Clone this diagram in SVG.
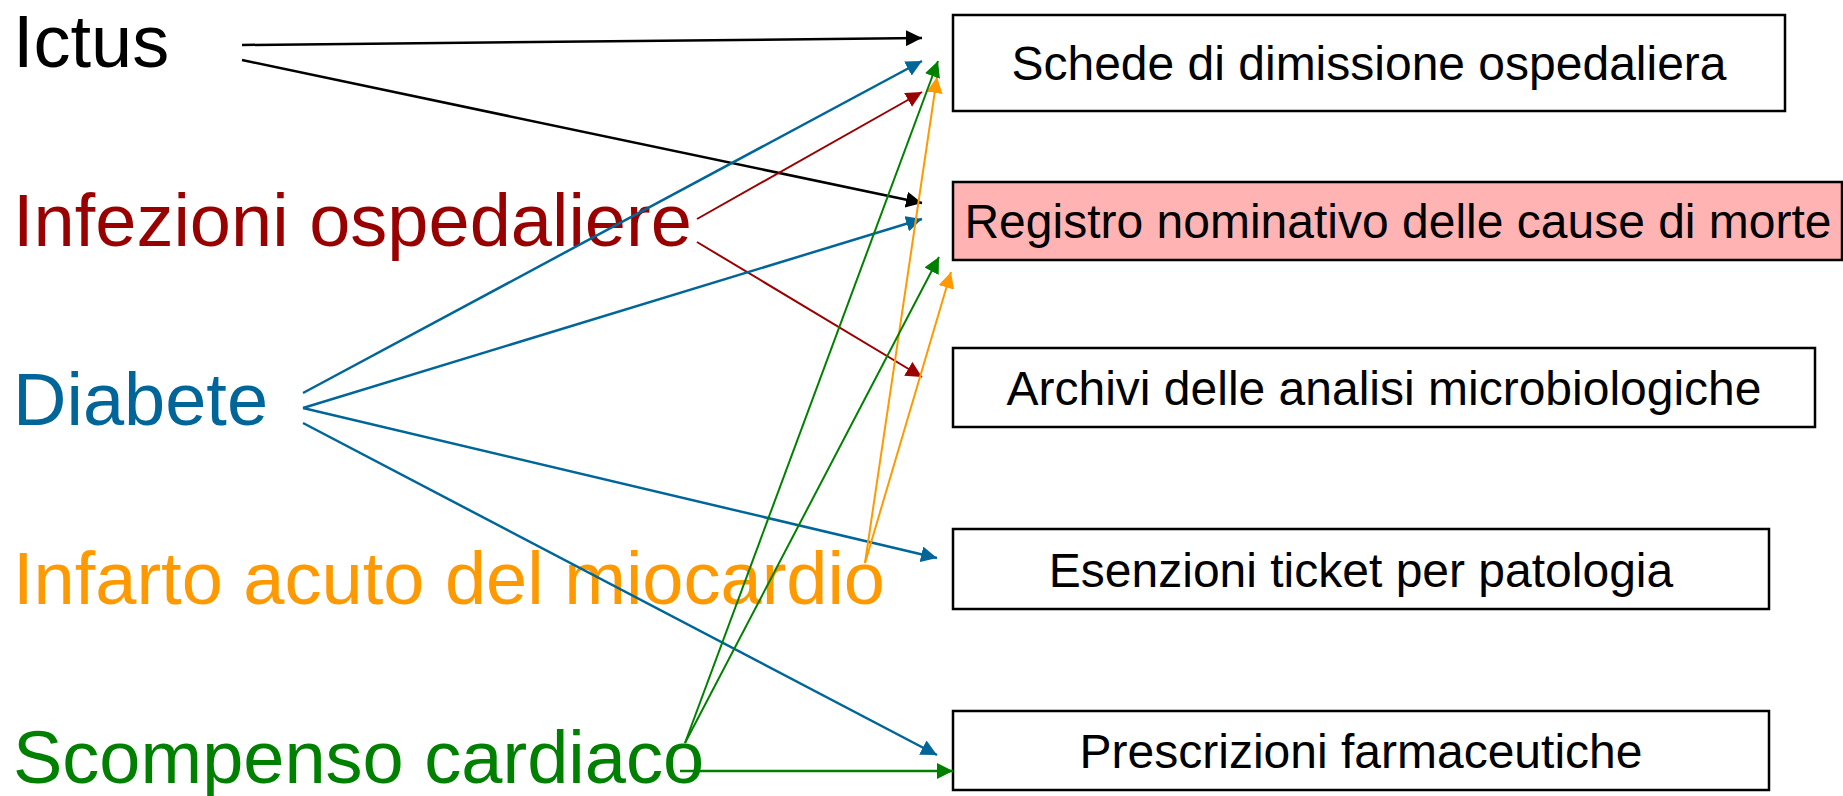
<svg xmlns="http://www.w3.org/2000/svg" width="1843" height="796" viewBox="0 0 1843 796">
<style>
.lbl{font-family:"Liberation Sans",Arial,sans-serif;font-size:74px}
.bt{font-family:"Liberation Sans",Arial,sans-serif;font-size:48px;fill:#000;text-anchor:middle}
.box{fill:#fff;stroke:#000;stroke-width:2.5}
.c{fill:none}
</style>
<defs>
<marker id="mk" markerUnits="userSpaceOnUse" markerWidth="16" markerHeight="16" refX="15" refY="7.5" orient="auto" viewBox="0 0 15 15"><path d="M0,0 L15,7.5 L0,15 z" fill="#000"/></marker>
<marker id="mb" markerUnits="userSpaceOnUse" markerWidth="16" markerHeight="16" refX="15" refY="7.5" orient="auto" viewBox="0 0 15 15"><path d="M0,0 L15,7.5 L0,15 z" fill="#006699"/></marker>
<marker id="mr" markerUnits="userSpaceOnUse" markerWidth="16" markerHeight="16" refX="15" refY="7.5" orient="auto" viewBox="0 0 15 15"><path d="M0,0 L15,7.5 L0,15 z" fill="#990000"/></marker>
<marker id="mo" markerUnits="userSpaceOnUse" markerWidth="16" markerHeight="16" refX="15" refY="7.5" orient="auto" viewBox="0 0 15 15"><path d="M0,0 L15,7.5 L0,15 z" fill="#FF9900"/></marker>
<marker id="mg" markerUnits="userSpaceOnUse" markerWidth="16" markerHeight="16" refX="15" refY="7.5" orient="auto" viewBox="0 0 15 15"><path d="M0,0 L15,7.5 L0,15 z" fill="#008000"/></marker>
</defs>
<rect width="1843" height="796" fill="#fff"/>

<g id="src-ictus"><text class="lbl" x="13" y="67" fill="#000">Ictus</text></g>
<g id="src-infezioni"><text class="lbl" x="13" y="246" fill="#990000">Infezioni ospedaliere</text></g>
<g id="src-diabete"><text class="lbl" x="13" y="425" fill="#006699">Diabete</text></g>
<g id="src-infarto"><text class="lbl" x="13" y="604" fill="#FF9900">Infarto acuto del miocardio</text></g>
<g id="src-scompenso"><text class="lbl" x="13" y="783" fill="#008000">Scompenso cardiaco</text></g>

<g id="box-schede"><rect class="box" x="953" y="15" width="832" height="96"/><text class="bt" x="1369" y="80">Schede di dimissione ospedaliera</text></g>
<g id="box-registro"><rect class="box" x="953" y="182" width="889" height="78" style="fill:#FFB3B3"/><text class="bt" x="1398" y="238">Registro nominativo delle cause di morte</text></g>
<g id="box-archivi"><rect class="box" x="953" y="348" width="862" height="79"/><text class="bt" x="1384" y="405">Archivi delle analisi microbiologiche</text></g>
<g id="box-esenzioni"><rect class="box" x="953" y="529" width="816" height="80"/><text class="bt" x="1361" y="587">Esenzioni ticket per patologia</text></g>
<g id="box-prescrizioni"><rect class="box" x="953" y="711" width="816" height="79"/><text class="bt" x="1361" y="768">Prescrizioni farmaceutiche</text></g>

<g id="connectors" class="c">
<line x1="242" y1="45" x2="922" y2="38" stroke="#000" stroke-width="2.5" marker-end="url(#mk)"/>
<line x1="242" y1="60" x2="922" y2="203" stroke="#000" stroke-width="2.5" marker-end="url(#mk)"/>
<line x1="697" y1="219" x2="922" y2="92" stroke="#990000" stroke-width="2" marker-end="url(#mr)"/>
<line x1="697" y1="242" x2="922" y2="377" stroke="#990000" stroke-width="2" marker-end="url(#mr)"/>
<line x1="303" y1="393" x2="922" y2="61" stroke="#006699" stroke-width="2.5" marker-end="url(#mb)"/>
<line x1="303" y1="408" x2="922" y2="219" stroke="#006699" stroke-width="2.5" marker-end="url(#mb)"/>
<line x1="303" y1="408" x2="937" y2="558" stroke="#006699" stroke-width="2.5" marker-end="url(#mb)"/>
<line x1="303" y1="423" x2="937" y2="755" stroke="#006699" stroke-width="2.5" marker-end="url(#mb)"/>
<line x1="865" y1="563" x2="937" y2="77" stroke="#FF9900" stroke-width="2" marker-end="url(#mo)"/>
<line x1="865" y1="563" x2="951" y2="272" stroke="#FF9900" stroke-width="2" marker-end="url(#mo)"/>
<line x1="685" y1="743" x2="938" y2="61" stroke="#008000" stroke-width="2" marker-end="url(#mg)"/>
<line x1="685" y1="743" x2="939" y2="257" stroke="#008000" stroke-width="2" marker-end="url(#mg)"/>
<line x1="680" y1="771" x2="953" y2="771" stroke="#008000" stroke-width="2.5" marker-end="url(#mg)"/>
</g>
</svg>
